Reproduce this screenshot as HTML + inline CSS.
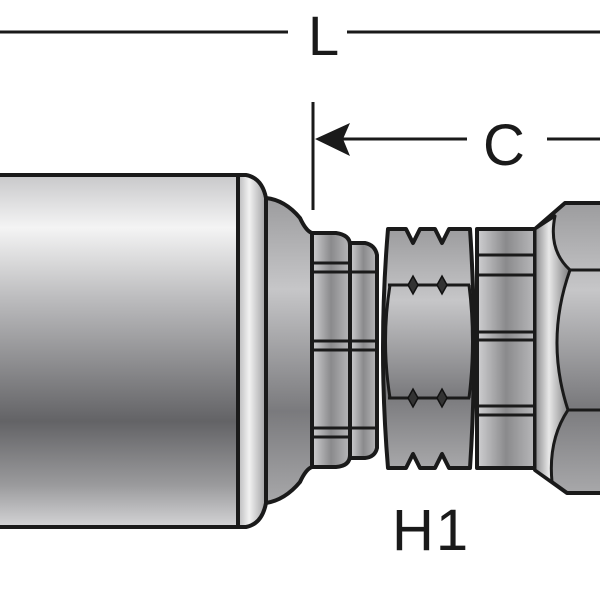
<!DOCTYPE html>
<html><head><meta charset="utf-8"><style>html,body{margin:0;padding:0;background:#fff}svg{display:block}</style></head>
<body>
<svg width="600" height="600" viewBox="0 0 600 600" xmlns="http://www.w3.org/2000/svg">
<defs>
<linearGradient id="g" x1="0" y1="0" x2="0" y2="1">
<stop offset="0" stop-color="#c8c8ca"/><stop offset="0.15" stop-color="#f4f4f4"/><stop offset="0.35" stop-color="#bcbcbe"/><stop offset="0.7" stop-color="#636366"/><stop offset="0.88" stop-color="#9a9a9c"/><stop offset="1" stop-color="#d4d4d6"/>
</linearGradient>
<linearGradient id="gc" x1="0" y1="0" x2="1" y2="0">
<stop offset="0" stop-color="#b8b8ba"/><stop offset="0.4" stop-color="#f2f2f2"/><stop offset="1" stop-color="#a0a0a2"/>
</linearGradient>
<linearGradient id="g2" x1="0" y1="0" x2="0" y2="1">
<stop offset="0" stop-color="#9c9c9e"/><stop offset="0.3" stop-color="#c6c6c8"/><stop offset="0.7" stop-color="#7a7a7d"/><stop offset="1" stop-color="#a8a8aa"/>
</linearGradient>
<linearGradient id="gh" x1="0" y1="0" x2="1" y2="0">
<stop offset="0" stop-color="#8a8a8c"/><stop offset="0.4" stop-color="#e8e8e8"/><stop offset="1" stop-color="#7a7a7c"/>
</linearGradient>
<linearGradient id="gb" x1="0" y1="0" x2="1" y2="0">
<stop offset="0" stop-color="#d0d0d2"/><stop offset="0.5" stop-color="#8a8a8c"/><stop offset="1" stop-color="#b8b8ba"/>
</linearGradient>
</defs>
<g stroke="#1a1a1a" stroke-width="4" stroke-linejoin="round">
<rect x="-5" y="175" width="243" height="352" fill="url(#g)"/>
<path d="M238 175 H246 Q262 178 266 198 V503 Q262 524 246 527 H238 Z" fill="url(#gc)"/>
<path d="M266 198 Q285 200 300 218 Q306 231 312 233 V467 Q306 469 300 482 Q285 500 266 503 Z" fill="url(#g2)"/>
<path d="M312 233 H336 Q350 235 350 245 V455 Q350 466 336 467 H312 Z" fill="url(#gb)"/>
<path d="M350 243 H365 Q375 245 377 255 V448 Q375 457 365 458 H350 Z" fill="url(#gb)"/>
<path d="M388 229 H406 L413 243 L420 229 H435 L442 243 L449 229 H470 Q478 348 470 468 H449 L442 454 L435 468 H420 L413 454 L406 468 H388 Q378 348 388 229 Z" fill="url(#g2)"/>
<path d="M390 285 Q381 341 390 398 M469 285 Q476 341 469 398" fill="none" stroke-width="3"/>
<rect x="477" y="229" width="58" height="239" fill="url(#gb)"/>
<path d="M535 229 L565 203 H605 V493 H567 L535 470 Z" fill="url(#g2)"/>
<path d="M535 229 L555 216 Q548 250 570 270 Q545 340 568 410 Q548 440 552 482 L535 470 Z" fill="url(#gh)" stroke-width="3"/>
<path d="M570 270 H605 M568 410 H605" fill="none" stroke-width="3"/>
</g>
<g stroke="#1a1a1a" stroke-width="3" fill="none">
<path d="M312 263 H350 M312 272 H377 M312 341 H377 M312 350 H377 M312 428 H377 M312 437 H350"/>
<path d="M350 245 V456"/>
<path d="M388 285 H470 M388 398 H470"/>
<path d="M477 255 H535 M477 275 H535 M477 332 H535 M477 340 H535 M477 406 H535 M477 415 H535"/>
</g>
<g fill="#333" stroke="#111" stroke-width="1.5">
<path d="M413 276 L418 285 L413 294 L408 285 Z M442 276 L447 285 L442 294 L437 285 Z M413 389 L418 398 L413 407 L408 398 Z M442 389 L447 398 L442 407 L437 398 Z"/>
</g>
<g stroke="#1a1a1a" stroke-width="3">
<line x1="0" y1="32" x2="288" y2="32"/>
<line x1="347" y1="32" x2="600" y2="32"/>
<line x1="313" y1="102" x2="313" y2="210"/>
<line x1="320" y1="139" x2="467" y2="139"/>
<line x1="547" y1="139" x2="600" y2="139"/>
</g>
<path d="M315 139 L350 123 L343 139 L350 156 Z" fill="#1a1a1a"/>
<g font-family="Liberation Sans, sans-serif" fill="#1a1a1a">
<text x="308" y="55" font-size="56">L</text>
<text x="483" y="165" font-size="58">C</text>
<text x="392" y="550" font-size="58" letter-spacing="2">H1</text>
</g>
</svg>
</body></html>
